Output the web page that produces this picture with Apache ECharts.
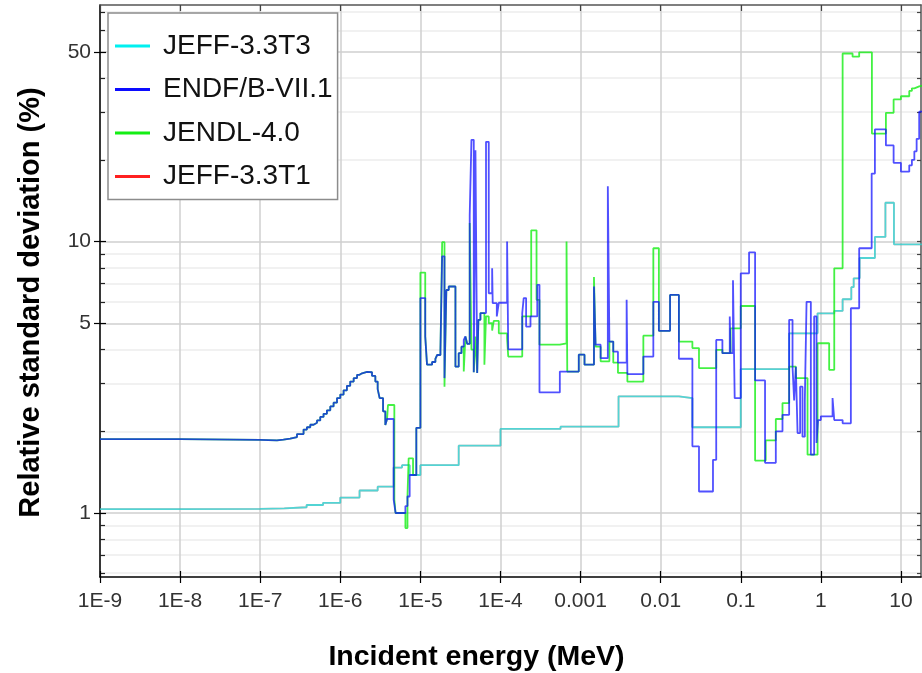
<!DOCTYPE html>
<html>
<head>
<meta charset="utf-8">
<script src="https://cdn.jsdelivr.net/npm/echarts@6/dist/echarts.min.js"></script>
<style>
  html, body { margin: 0; padding: 0; background: #ffffff; }
  #chart { width: 922px; height: 673px; }
</style>
</head>
<body>
<div id="chart"></div>
<script>
// Axis ticks
const xTickValues = [1e-9, 1e-8, 1e-7, 1e-6, 1e-5, 1e-4, 1e-3, 1e-2, 1e-1, 1, 10];
const xTickLabels = ['1E-9', '1E-8', '1E-7', '1E-6', '1E-5', '1E-4', '0.001', '0.01', '0.1', '1', '10'];
const yMajorValues = [1, 5, 10, 50];
const yMajorLabels = ['1', '5', '10', '50'];
const yMinorValues = [0.6, 0.7, 0.8, 0.9, 2, 3, 4, 6, 7, 8, 9, 20, 30, 40, 60, 70];

// JEFF-3.3T3: step values (each value holds from its energy to the next one)
const jeffT3Energy = [1e-9, 1e-8, 1e-7, 2e-7, 3.8e-7, 6.1e-7, 1e-6, 1.74e-6, 2.93e-6, 4.64e-6,
  5.9e-6, 7.35e-6, 1e-5, 3.01e-5, 1e-4, 5.62e-4, 2.98e-3, 1.69e-2, 2.49e-2, 0.1,
  0.402, 0.91, 1.47, 1.87, 2.4, 2.57, 3.05, 4.73, 6.4, 8.18, 20];
const jeffT3Value = [1.034, 1.036, 1.04, 1.05, 1.07, 1.09, 1.14, 1.21, 1.25, 1.47,
  1.5, 1.38, 1.5, 1.77, 2.04, 2.08, 2.69, 2.65, 2.07, 3.39,
  4.59, 5.44, 5.55, 6.13, 6.79, 7.32, 8.7, 10.4, 13.9, 9.77, 9.77];

// JEFF-3.3T1 lies on top of JEFF-3.3T3 over the whole range
const jeffT1Energy = jeffT3Energy;
const jeffT1Value = jeffT3Value;

// ENDF/B-VII.1
const endfEnergy = [1e-9, 1e-8, 1e-7, 1.62e-7, 1.95e-7, 2.37e-7, 2.88e-7, 3.48e-7, 3.83e-7, 4.22e-7,
  4.64e-7, 5.12e-7, 5.62e-7, 6.18e-7, 6.81e-7, 7.5e-7, 8.25e-7, 9.1e-7, 1e-6, 1.1e-6,
  1.21e-6, 1.33e-6, 1.47e-6, 1.62e-6, 1.74e-6, 1.87e-6, 2.16e-6, 2.49e-6, 2.74e-6,
  2.93e-6, 3.1e-6, 3.42e-6, 3.65e-6, 3.84e-6, 4.64e-6, 4.9e-6, 6.5e-6, 6.9e-6, 7.35e-6,
  8.9e-6, 1e-5, 1.15e-5, 1.21e-5, 1.4e-5, 1.54e-5, 1.62e-5, 1.78e-5, 1.87e-5, 2.0e-5,
  2.11e-5, 2.26e-5, 2.74e-5, 3.01e-5, 3.26e-5, 3.48e-5, 3.65e-5, 3.84e-5, 4.13e-5, 4.34e-5,
  4.64e-5, 4.87e-5, 5.12e-5, 5.3e-5, 5.62e-5, 6.6e-5, 7.14e-5, 7.87e-5, 8.0e-5, 9.0e-5,
  9.53e-5, 1.21e-4, 1.25e-4, 1.87e-4, 1.95e-4, 2.09e-4, 2.37e-4, 2.88e-4, 3.07e-4, 5.51e-4,
  9.5e-4, 1.12e-3, 1.47e-3, 1.54e-3, 1.78e-3, 2.19e-3, 2.29e-3, 2.56e-3, 2.93e-3, 3.76e-3,
  3.84e-3, 6.08e-3, 8.1e-3, 9.5e-3, 1.31e-2, 1.69e-2, 2.49e-2, 3.01e-2, 4.5e-2, 4.94e-2,
  5.9e-2, 7.29e-2, 7.45e-2, 8.0e-2, 8.4e-2, 0.1, 0.127, 0.151, 0.201, 0.274,
  0.332, 0.402, 0.443, 0.464, 0.487, 0.512, 0.551, 0.59, 0.631, 0.663,
  0.75, 0.825, 0.883, 0.925, 1.0, 1.4, 1.47, 1.87, 2.37, 3.01,
  4.31, 4.73, 6.49, 8.1, 10, 12.7, 13.7, 14.7, 15.7, 16.9, 20];
const endfValue = [1.87, 1.86, 1.85, 1.862, 1.878, 1.905, 1.954, 2.03, 2.07, 2.114,
  2.15, 2.193, 2.26, 2.32, 2.39, 2.47, 2.55, 2.65, 2.73, 2.83,
  2.94, 3.05, 3.14, 3.23, 3.27, 3.31, 3.30, 3.20, 3.05,
  2.86, 2.65, 2.37, 2.11, 2.22, 1.12, 1.0, 1.06, 1.15, 1.38,
  2.06, 6.19, 4.47, 3.52, 3.6, 3.7, 3.82, 3.95, 8.82, 3.14,
  6.63, 6.83, 3.46, 3.88, 4.1, 4.34, 4.47, 4.2, 12.5, 23.7,
  3.3, 21.7, 3.28, 5.15, 5.45, 23.3, 6.45, 7.97, 5.93, 5.3,
  5.95, 10.0, 4.01, 5.45, 6.19, 4.86, 5.3, 6.93, 2.78, 3.32,
  3.83, 3.52, 6.83, 4.17, 3.72, 16.0, 4.28, 3.93, 3.58, 6.1,
  3.25, 3.77, 6.0, 4.69, 6.36, 3.7, 1.76, 1.2, 1.57, 4.34,
  3.88, 5.3, 3.88, 7.2, 2.65, 7.64, 9.13, 3.08, 1.53, 2.0,
  2.3, 5.15, 3.46, 2.6, 3.46, 1.97, 2.92, 1.91, 2.6, 6.0,
  1.64, 5.3, 1.81, 2.2, 2.27, 2.65, 2.2, 2.14, 5.68, 9.45,
  17.8, 25.9, 22.6, 19.5, 18.1, 19.1, 20.0, 21.5, 23.9, 30.1, 30.1];

// JENDL-4.0
const jendlEnergy = [1e-9, 1e-8, 1e-7, 1.62e-7, 1.95e-7, 2.37e-7, 2.88e-7, 3.48e-7, 3.83e-7, 4.22e-7,
  4.64e-7, 5.12e-7, 5.62e-7, 6.18e-7, 6.81e-7, 7.5e-7, 8.25e-7, 9.1e-7, 1e-6, 1.1e-6,
  1.21e-6, 1.33e-6, 1.47e-6, 1.62e-6, 1.74e-6, 1.87e-6, 2.16e-6, 2.49e-6, 2.74e-6,
  2.93e-6, 3.1e-6, 3.42e-6, 3.65e-6, 3.84e-6, 3.94e-6, 4.73e-6, 4.9e-6, 6.5e-6, 6.9e-6,
  7.14e-6, 8.1e-6, 8.9e-6, 1e-5, 1.15e-5, 1.21e-5, 1.4e-5, 1.54e-5, 1.62e-5, 1.78e-5,
  1.87e-5, 2.0e-5, 2.11e-5, 2.26e-5, 2.74e-5, 3.01e-5, 3.26e-5, 3.48e-5, 3.65e-5, 3.84e-5,
  4.13e-5, 4.34e-5, 4.64e-5, 4.87e-5, 5.12e-5, 5.3e-5, 5.62e-5, 6.3e-5, 6.6e-5, 7.14e-5,
  7.87e-5, 8.25e-5, 9.53e-5, 1.21e-4, 1.25e-4, 1.87e-4, 2.42e-4, 2.82e-4, 3.07e-4, 5.51e-4,
  6.68e-4, 6.82e-4, 9.5e-4, 1.12e-3, 1.47e-3, 1.54e-3, 1.78e-3, 2.29e-3, 2.56e-3, 2.93e-3,
  3.84e-3, 6.08e-3, 8.1e-3, 9.5e-3, 1.31e-2, 1.69e-2, 2.49e-2, 3.01e-2, 4.94e-2, 5.9e-2,
  7.45e-2, 0.1, 0.151, 0.205, 0.274, 0.332, 0.402, 0.487, 0.682, 0.91,
  1.27, 1.47, 1.87, 2.49, 3.01, 4.34, 6.49, 8.1, 10, 12.7,
  13.7, 14.7, 16.9, 20];
const jendlValue = [1.87, 1.86, 1.85, 1.862, 1.878, 1.905, 1.954, 2.03, 2.07, 2.114,
  2.15, 2.193, 2.26, 2.32, 2.39, 2.47, 2.55, 2.65, 2.73, 2.83,
  2.94, 3.05, 3.14, 3.23, 3.27, 3.31, 3.30, 3.20, 3.05,
  2.86, 2.65, 2.37, 2.11, 2.22, 2.5, 1.12, 1.0, 0.88, 1.15,
  1.59, 1.38, 2.06, 7.69, 4.47, 3.52, 3.6, 3.7, 3.82, 3.95,
  9.95, 2.92, 6.63, 6.83, 3.46, 3.88, 4.1, 3.32, 4.47, 4.2,
  11.7, 4.0, 3.3, 4.47, 3.28, 5.15, 5.45, 3.52, 5.3, 5.0,
  4.7, 5.1, 4.59, 4.4, 3.77, 5.3, 11.0, 6.1, 4.17, 4.22,
  10.0, 3.32, 3.83, 3.52, 7.4, 4.1, 3.62, 4.28, 3.58, 3.28,
  3.05, 4.5, 9.45, 4.69, 6.36, 4.28, 4.05, 3.42, 3.99, 3.88,
  4.79, 5.79, 1.56, 1.85, 2.22, 2.54, 3.46, 3.14, 1.64, 4.22,
  3.37, 7.97, 49.3, 48.0, 49.8, 25.0, 29.8, 33.4, 34.3, 35.9,
  36.7, 37.3, 37.7, 37.9];

const pairs = (e, v) => e.map((x, i) => [x, v[i]]);

const labelFor = (values, labels) => (v) => {
  for (let i = 0; i < values.length; i++) {
    if (Math.abs(Math.log10(v) - Math.log10(values[i])) < 1e-6) return labels[i];
  }
  return '';
};

const tickFont = "'Liberation Sans Narrow', 'Arial Narrow', 'Liberation Sans', sans-serif";
const mainFont = "'Liberation Sans', Arial, sans-serif";
const xMin = 1e-9, xMax = 17.8, yMin = 0.581, yMax = 74.4;

const lineBase = {
  type: 'line', step: 'end', symbol: 'none', showSymbol: false,
  xAxisIndex: 0, yAxisIndex: 0, animation: false, silent: true
};

const chart = echarts.init(document.getElementById('chart'), null, { renderer: 'canvas' });

chart.setOption({
  backgroundColor: '#ffffff',
  animation: false,
  grid: { left: 100, right: 1, top: 5, bottom: 96, containLabel: false, outerBoundsMode: 'none' },
  legend: {
    data: ['JEFF-3.3T3', 'ENDF/B-VII.1', 'JENDL-4.0', 'JEFF-3.3T1'],
    orient: 'vertical',
    left: 108, top: 13,
    icon: 'rect',
    itemWidth: 35, itemHeight: 3, itemGap: 15.5,
    padding: [19, 5, 9, 7],
    backgroundColor: '#ffffff',
    borderColor: '#8c8c8c', borderWidth: 1.5, borderRadius: 0,
    selectedMode: false,
    itemStyle: { opacity: 1 },
    textStyle: { fontFamily: mainFont, fontSize: 28, color: '#111111', padding: [0, 0, 0, 8] }
  },
  xAxis: [
    {
      type: 'log', logBase: 10, min: xMin, max: xMax, position: 'bottom',
      axisLine: { lineStyle: { color: '#000000', width: 1.5 } },
      axisTick: { customValues: xTickValues, length: 6, lineStyle: { color: '#000000', width: 1.2 } },
      axisLabel: {
        customValues: xTickValues, formatter: labelFor(xTickValues, xTickLabels),
        fontFamily: tickFont, fontSize: 21, color: '#333333', margin: 14
      },
      splitLine: { show: true, lineStyle: { color: '#cfcfcf', width: 1.5 } },
      name: 'Incident energy (MeV)', nameLocation: 'middle', nameGap: 66,
      nameTextStyle: { fontFamily: mainFont, fontSize: 28.5, fontWeight: 'bold', color: '#000000', padding: [0, 68, 0, 0] }
    },
    {
      type: 'log', logBase: 10, min: xMin, max: xMax, position: 'bottom',
      axisLine: { show: false },
      axisTick: { customValues: xTickValues, inside: true, length: 6, lineStyle: { color: '#000000', width: 1.2 } },
      axisLabel: { show: false }, splitLine: { show: false }
    },
    {
      type: 'log', logBase: 10, min: xMin, max: xMax, position: 'top',
      axisLine: { lineStyle: { color: '#555555', width: 1.5 } },
      axisTick: { customValues: xTickValues, inside: true, length: 6, lineStyle: { color: '#444444', width: 1.2 } },
      axisLabel: { show: false }, splitLine: { show: false }
    }
  ],
  yAxis: [
    {
      type: 'log', logBase: 10, min: yMin, max: yMax, position: 'left',
      axisLine: { lineStyle: { color: '#000000', width: 1.5 } },
      axisTick: { customValues: yMajorValues, length: 6, lineStyle: { color: '#000000', width: 1.2 } },
      axisLabel: {
        customValues: yMajorValues, formatter: labelFor(yMajorValues, yMajorLabels),
        fontFamily: tickFont, fontSize: 21, color: '#333333', margin: 9
      },
      splitLine: { show: true, lineStyle: { color: '#cfcfcf', width: 1.5 } },
      name: 'Relative standard deviation (%)', nameLocation: 'middle', nameGap: 55,
      nameTextStyle: { fontFamily: mainFont, fontSize: 29, fontWeight: 'bold', color: '#000000', padding: [0, 23, 0, 0] }
    },
    {
      type: 'log', logBase: 10, min: yMin, max: yMax, position: 'left',
      axisLine: { show: false },
      axisTick: { customValues: yMajorValues, inside: true, length: 6, lineStyle: { color: '#000000', width: 1.2 } },
      axisLabel: { show: false }, splitLine: { show: false }
    },
    {
      type: 'log', logBase: 10, min: yMin, max: yMax, position: 'left',
      axisLine: { show: false },
      axisTick: { customValues: yMinorValues, inside: true, length: 5, lineStyle: { color: '#222222', width: 1.2 } },
      axisLabel: { show: false },
      splitLine: { show: true, lineStyle: { color: '#ececec', width: 1.5 } }
    },
    {
      type: 'log', logBase: 10, min: yMin, max: yMax, position: 'right',
      axisLine: { lineStyle: { color: '#555555', width: 1.5 } },
      axisTick: { customValues: yMajorValues.concat(yMinorValues), inside: true, length: 4, lineStyle: { color: '#444444', width: 1.2 } },
      axisLabel: { show: false }, splitLine: { show: false }
    }
  ],
  series: [
    Object.assign({}, lineBase, {
      name: 'JEFF-3.3T1', color: '#ff2020',
      lineStyle: { width: 1.8, opacity: 0.45 },
      data: pairs(jeffT1Energy, jeffT1Value)
    }),
    Object.assign({}, lineBase, {
      name: 'JEFF-3.3T3', color: '#00f0f0',
      lineStyle: { width: 1.8, opacity: 0.68 },
      data: pairs(jeffT3Energy, jeffT3Value)
    }),
    Object.assign({}, lineBase, {
      name: 'JENDL-4.0', color: '#14ee14',
      lineStyle: { width: 1.8, opacity: 0.8 },
      data: pairs(jendlEnergy, jendlValue)
    }),
    Object.assign({}, lineBase, {
      name: 'ENDF/B-VII.1', color: '#0c0cff',
      lineStyle: { width: 1.8, opacity: 0.72 },
      data: pairs(endfEnergy, endfValue)
    })
  ]
});
</script>
</body>
</html>
